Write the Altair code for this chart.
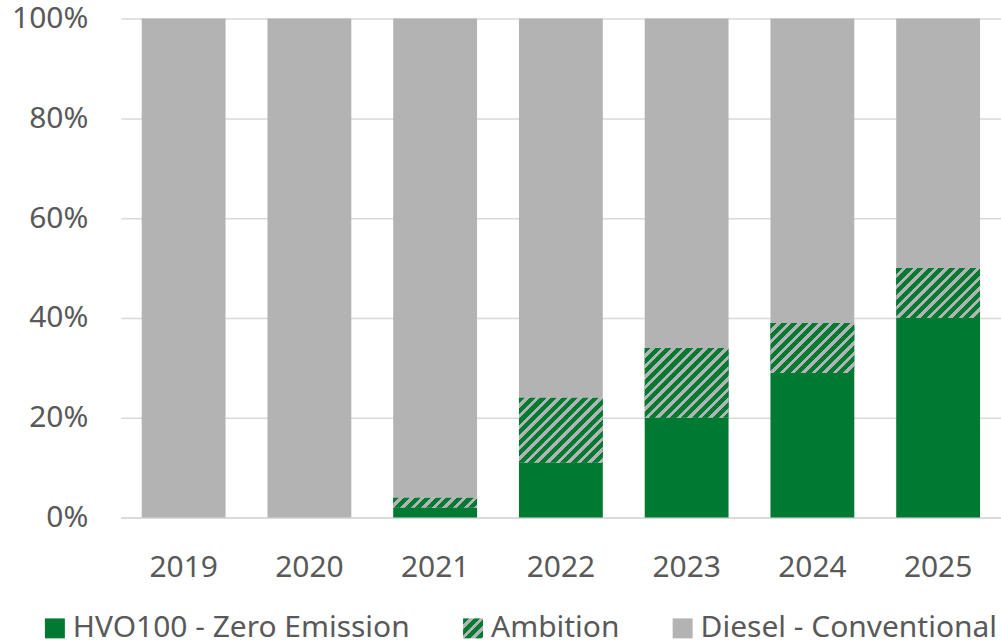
import altair as alt

years = ["2019", "2020", "2021", "2022", "2023", "2024", "2025"]
hvo = [0, 0, 2, 11, 20, 29, 40]
ambition = [0, 0, 2, 13, 14, 10, 10]
series = ["HVO100 - Zero Emission", "Ambition", "Diesel - Conventional"]

GREEN = "#007A33"
GRAY = "#B3B3B3"
TEXT = "#595959"
GRID = "#D9D9D9"
FONT = "Noto Sans"

rows = []
for i, yr in enumerate(years):
    h = hvo[i] / 100
    a = ambition[i] / 100
    rows.append({"year": yr, "series": series[0], "y0": 0, "y1": h})
    rows.append({"year": yr, "series": series[1], "y0": h, "y1": h + a})
    rows.append({"year": yr, "series": series[2], "y0": h + a, "y1": 1})

# diagonal hatch as a striped linear gradient (pixel-constant period)
L = 220.0
P = 10.6
G = 0.58
stops = []
k = 0
while k * P < L:
    s = k * P / L
    m = min((k * P + G * P) / L, 1)
    e = min((k + 1) * P / L, 1)
    stops += [(s, GREEN), (m, GREEN), (m, GRAY), (e, GRAY)]
    k += 1
stops_js = "[" + ",".join("{offset:%.5f,color:'%s'}" % (o, c) for o, c in stops) + "]"

W = "bandwidth('x')"
H = "abs(scale('y',datum.y0)-scale('y',datum.y1))"
D = "(%s*%s+%s*%s)" % (W, W, H, H)
bar_grad = "{gradient:'linear',x1:0,y1:0,x2:%s*%s/%s,y2:%s*%s/%s,stops:%s}" % (
    L, W, D, L, H, D, stops_js)
leg_grad = "{gradient:'linear',x1:0,y1:0,x2:%s,y2:%s,stops:%s}" % (
    L / 40.0, L / 40.0, stops_js)

data = alt.Data(values=rows)

x_enc = alt.X(
    "year:N",
    sort=years,
    scale=alt.Scale(paddingInner=1 / 3, paddingOuter=1 / 6),
    axis=alt.Axis(title=None, labelAngle=0, ticks=False, domainColor=GRID,
                  domainWidth=1.5, labelFontSize=30, labelColor=TEXT,
                  labelFont=FONT, labelPadding=35),
)
y_enc = alt.Y(
    "y1:Q",
    scale=alt.Scale(domain=[0, 1], nice=False),
    axis=alt.Axis(title=None, format=".0%", values=[0, 0.2, 0.4, 0.6, 0.8, 1.0],
                  domain=False, ticks=False, gridColor=GRID, gridWidth=1.5,
                  labelFontSize=30, labelColor=TEXT, labelFont=FONT,
                  labelPadding=33),
)

base_bars = alt.Chart(data).mark_bar().encode(
    x=x_enc,
    y=y_enc,
    y2="y0:Q",
    color=alt.Color(
        "series:N",
        scale=alt.Scale(domain=series, range=[GREEN, {"expr": leg_grad}, GRAY]),
        legend=alt.Legend(title=None, orient="none", legendX=-81, legendY=596,
                          direction="horizontal", symbolType="square",
                          symbolSize=400, symbolStrokeWidth=0,
                          labelFontSize=30, labelColor=TEXT, labelFont=FONT,
                          labelOffset=3, columnPadding=48, labelLimit=0),
    ),
)

hatch = alt.Chart(data).mark_bar().encode(
    x=alt.X("year:N", sort=years),
    y="y1:Q",
    y2="y0:Q",
    fill=alt.value({"expr": bar_grad}),
).transform_filter("datum.series == 'Ambition' && datum.y1 > datum.y0")

chart = alt.layer(base_bars, hatch).properties(
    width=882,
    height=500,
    autosize=alt.AutoSizeParams(type="none"),
    padding={"left": 121, "top": 18, "right": 0, "bottom": 122},
).configure_view(stroke=None)

chart.save("out.html", embed_options={"renderer": "svg", "actions": False})
